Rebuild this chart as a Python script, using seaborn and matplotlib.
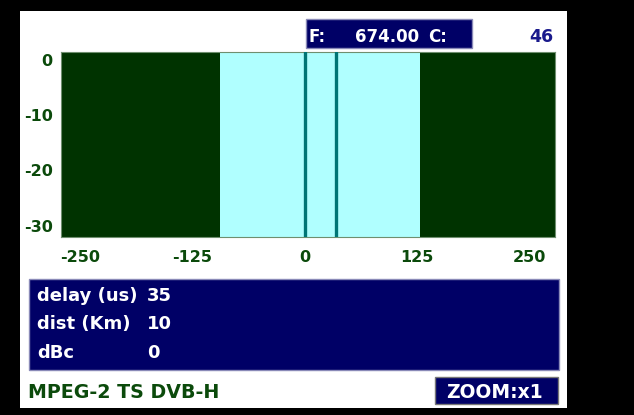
import matplotlib

matplotlib.use("Agg")
import matplotlib.pyplot as plt
import matplotlib.transforms as mtransforms
from matplotlib.patches import Rectangle
import pandas as pd
import seaborn as sns

# echo profile
ECHO_DELAYS = [0, 35]          # us
ECHO_LEVELS = [0, 0]           # dBc
GUARD_WINDOW = (-94, 128)      # us, light band
X_TICKS = [-250, -125, 0, 125, 250]
Y_TICKS = [0, -10, -20, -30]
X_RANGE = (-271, 278)
Y_RANGE = (-33.3, 0)

FREQ_LABEL = "674.00"
CHANNEL = "46"
INFO_LABELS = ["delay (us)", "dist (Km)", "dBc"]
INFO_VALUES = ["35", "10", "0"]
STREAM_LABEL = "MPEG-2 TS DVB-H"
ZOOM_LABEL = "ZOOM:x1"

W, H = 634, 415
NAVY = "#000066"
DARK_GREEN = "#003300"
LIGHT_CYAN = "#b0ffff"
TEAL = "#007575"
TEXT_GREEN = "#0b4a0b"


def fx(x):
    return x / W


def fy(y):
    return 1 - y / H


def add_box(fig, x0, y0, x1, y1, face, edge="none", z=0):
    fig.patches.append(
        Rectangle((fx(x0), fy(y1)), fx(x1 - x0), (y1 - y0) / H,
                  transform=fig.transFigure, facecolor=face,
                  edgecolor=edge, linewidth=1.0, zorder=z)
    )


def main() -> None:
    sns.set_theme(style="white")
    plt.rcParams["font.family"] = ["DejaVu Sans"]
    plt.rcParams["font.weight"] = "bold"
    plt.rcParams["axes.unicode_minus"] = False

    fig = plt.figure(figsize=(W / 100, H / 100), dpi=100, facecolor="black")
    add_box(fig, 20, 11, 567, 408, "white", z=-2)

    ax = fig.add_axes([fx(61), fy(237.3), fx(555 - 61), (237.3 - 52.5) / H])
    ax.set_zorder(1)
    ax.set_facecolor(DARK_GREEN)
    ax.axvspan(*GUARD_WINDOW, color=LIGHT_CYAN, lw=0, zorder=1)

    rows = []
    for i, (d, lvl) in enumerate(zip(ECHO_DELAYS, ECHO_LEVELS)):
        rows.append({"echo": i, "delay": d, "level": Y_RANGE[0]})
        rows.append({"echo": i, "delay": d, "level": lvl})
    echoes = pd.DataFrame(rows)
    sns.lineplot(data=echoes, x="delay", y="level", units="echo",
                 estimator=None, sort=False, color=TEAL, lw=2.4,
                 ax=ax, zorder=3)

    ax.set_xlim(*X_RANGE)
    ax.set_ylim(*Y_RANGE)
    ax.set_xticks(X_TICKS)
    ax.set_yticks(Y_TICKS)
    ax.set_xlabel("")
    ax.set_ylabel("")
    ax.tick_params(axis="both", length=0, labelsize=11.5, labelcolor=TEXT_GREEN)
    ax.tick_params(axis="x", pad=9)
    ax.tick_params(axis="y", pad=6)
    shift = mtransforms.ScaledTranslation(0, -7 / 100, fig.dpi_scale_trans)
    for lab in ax.get_yticklabels():
        lab.set_transform(lab.get_transform() + shift)
        lab.set_fontweight("bold")
    for lab in ax.get_xticklabels():
        lab.set_fontweight("bold")
    for sp in ax.spines.values():
        sp.set_color("#6f8f6f")
        sp.set_linewidth(0.8)

    # frequency / channel header
    add_box(fig, 306, 19, 472, 48, NAVY, edge="#8a8ab8")
    fig.text(fx(309), fy(41.7), "F:", color="white", fontsize=12,
             fontweight="bold", va="baseline")
    fig.text(fx(355), fy(41.7), FREQ_LABEL, color="white", fontsize=12,
             fontweight="bold", va="baseline")
    fig.text(fx(428), fy(41.7), "C:", color="white", fontsize=12,
             fontweight="bold", va="baseline")
    fig.text(fx(553), fy(41.7), CHANNEL, color="#1a1a8c", fontsize=12.5,
             fontweight="bold", va="baseline", ha="right")

    # echo info box
    add_box(fig, 29, 279, 559, 370, NAVY, edge="#8a8ab8")
    baselines = [300.7, 329, 357.7]
    for label, value, yb in zip(INFO_LABELS, INFO_VALUES, baselines):
        fig.text(fx(37), fy(yb), label, color="white", fontsize=13,
                 fontweight="bold", va="baseline")
        fig.text(fx(147), fy(yb), value, color="white", fontsize=13,
                 fontweight="bold", va="baseline")

    fig.text(fx(28), fy(398), STREAM_LABEL, color=TEXT_GREEN, fontsize=13.7,
             fontweight="bold", va="baseline")

    add_box(fig, 435, 377, 558, 404, NAVY, edge="#777777")
    fig.text(fx(446), fy(398), ZOOM_LABEL, color="white", fontsize=13.5,
             fontweight="bold", va="baseline")

    fig.savefig("out.png", dpi=100, facecolor="black")
    plt.close(fig)


if __name__ == "__main__":
    main()
